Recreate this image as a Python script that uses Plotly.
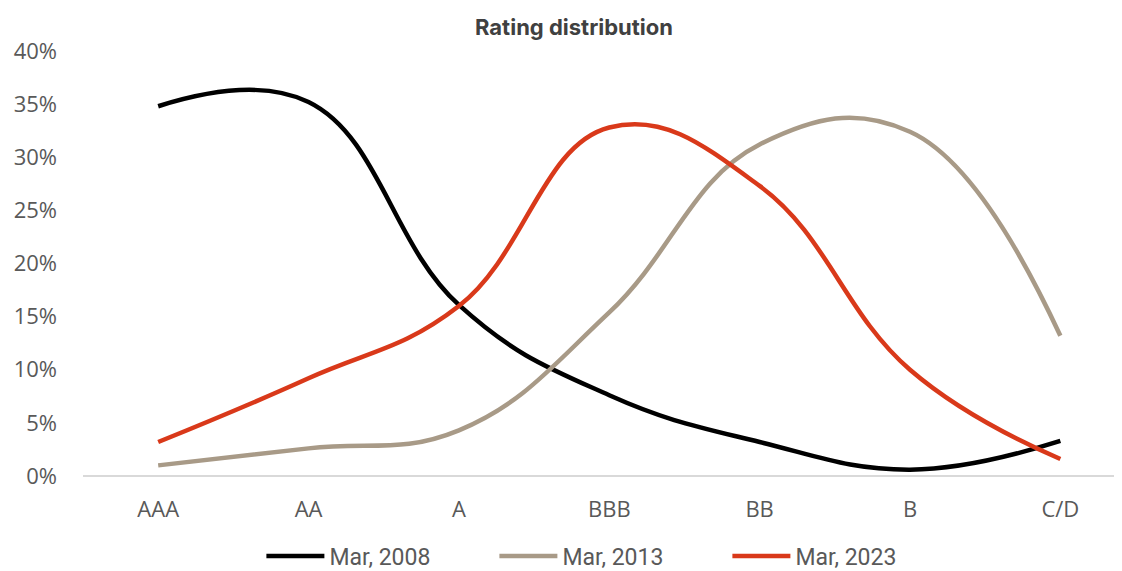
import plotly.graph_objects as go

categories = ["AAA", "AA", "A", "BBB", "BB", "B", "C/D"]
mar_2008 = [34.8, 35.2, 16.1, 7.6, 3.2, 0.6, 3.3]
mar_2013 = [1.0, 2.6, 4.3, 15.4, 31.2, 32.4, 13.2]
mar_2023 = [3.2, 9.2, 16.0, 32.8, 27.3, 10.0, 1.6]

series = [
    ("Mar, 2008", mar_2008, "#000000"),
    ("Mar, 2013", mar_2013, "#A89A87"),
    ("Mar, 2023", mar_2023, "#D9391A"),
]

W, H = 1114, 563

fig = go.Figure()
for name, vals, color in series:
    fig.add_trace(go.Scatter(
        x=list(range(len(categories))), y=vals, name=name, mode="lines",
        line=dict(color=color, width=4.5, shape="spline", smoothing=1.2),
        hoverinfo="skip",
    ))

fig.update_layout(
    width=W, height=H,
    margin=dict(l=75, r=0, t=43, b=95, autoexpand=False),
    paper_bgcolor="white", plot_bgcolor="white",
    font=dict(family="Open Sans, Roboto, Arial, sans-serif", color="#595959", size=22),
    title=dict(text="<b>Rating distribution</b>", x=566 / W, xanchor="center",
               y=1 - 19 / H, yanchor="middle",
               font=dict(family="Inter, Roboto, sans-serif", size=22, color="#404040")),
    showlegend=True,
    legend=dict(orientation="h", x=566 / W, xanchor="center", y=-0.138, yanchor="top",
                font=dict(family="Roboto, Arial, sans-serif", size=23, color="#595959"),
                itemwidth=58, tracegroupgap=0,
                entrywidthmode="pixels", entrywidth=160),
    xaxis=dict(
        range=[-0.5, 6.41], tickmode="array",
        tickvals=list(range(len(categories))), ticktext=categories,
        showgrid=False, showline=False, zeroline=False, ticks="",
        ticklabelstandoff=18, fixedrange=True, automargin=False,
    ),
    yaxis=dict(
        range=[0, 40], dtick=5, ticksuffix="%", showgrid=False,
        zeroline=True, zerolinecolor="#D9D9D9", zerolinewidth=1.5,
        showline=False, ticks="", ticklabelstandoff=25, automargin=False,
    ),
)

fig.write_html("out.html")
